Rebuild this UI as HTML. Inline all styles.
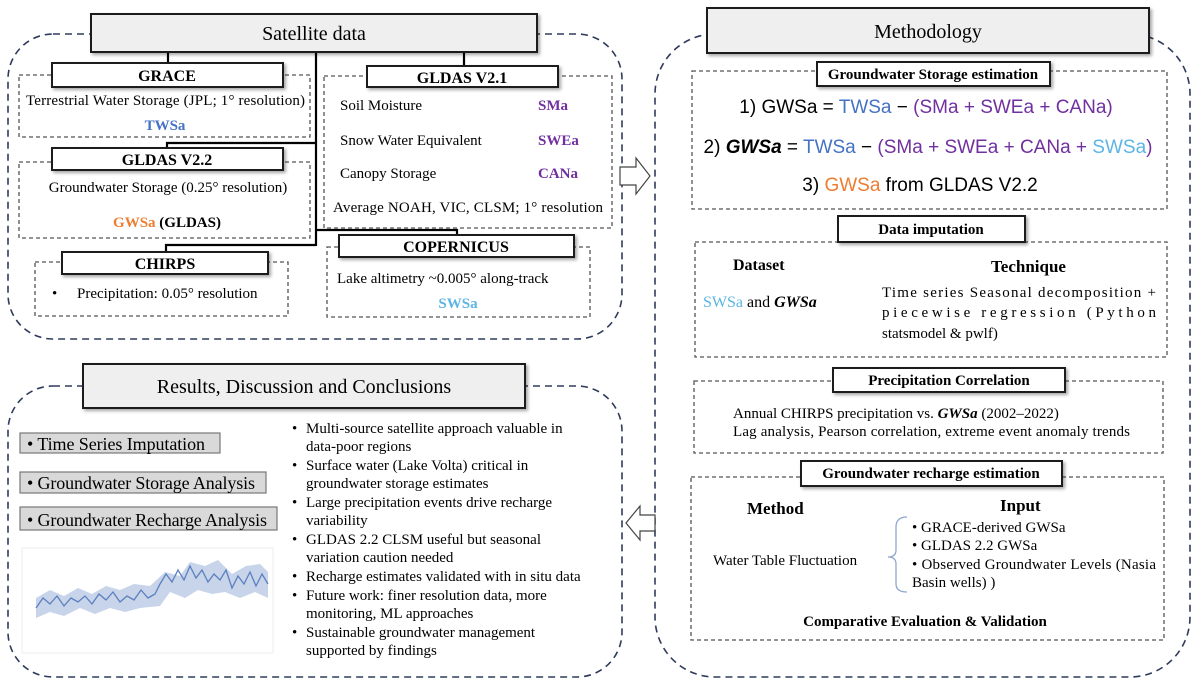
<!DOCTYPE html>
<html><head><meta charset="utf-8"><style>
html,body{margin:0;padding:0;background:#fff;}
svg{display:block;font-family:"Liberation Serif",serif;}
.eq{font-family:"Liberation Sans",sans-serif;font-size:19px}
</style></head><body>
<svg width="1199" height="684" viewBox="0 0 1199 684" xmlns="http://www.w3.org/2000/svg">
<defs>
<filter id="sh" x="-5%" y="-20%" width="115%" height="160%"><feDropShadow dx="2" dy="2" stdDeviation="1.5" flood-color="#000" flood-opacity="0.35"/></filter>
</defs>
<!-- outer panels -->
<g fill="none" stroke="#2f3b5c" stroke-width="1.6" stroke-dasharray="7,5">
<rect x="8" y="34" width="614" height="305" rx="45"/>
<rect x="8" y="386" width="614" height="291" rx="45"/>
<rect x="655" y="34" width="535" height="643" rx="60"/>
</g>
<!-- inner dashed boxes -->
<g fill="none" stroke="#555" stroke-width="1.3" stroke-dasharray="4,3">
<rect x="19" y="75" width="291" height="62"/>
<rect x="19" y="162" width="291" height="76"/>
<rect x="35" y="262" width="253" height="54"/>
<rect x="324" y="76" width="288" height="152"/>
<rect x="327" y="247" width="263" height="70"/>
<rect x="692" y="71" width="475" height="138"/>
<rect x="695" y="242" width="472" height="115"/>
<rect x="694" y="381" width="469" height="72"/>
<rect x="691" y="477" width="473" height="163"/>
</g>
<!-- connectors -->
<g stroke="#000" stroke-width="2.2" fill="none">
<line x1="316" y1="52" x2="316" y2="246"/>
<line x1="168" y1="52" x2="168" y2="63"/>
<line x1="464" y1="52" x2="464" y2="66"/>
<polyline points="316,143 167,143 167,148"/>
<polyline points="316,245 166,245 166,252"/>
<polyline points="316,230 457,230 457,235"/>
</g>
<!-- big headers -->
<g filter="url(#sh)" stroke="#1a1a1a" stroke-width="2" fill="#efefef">
<rect x="91" y="14" width="446" height="38"/>
<rect x="707" y="8" width="442" height="45"/>
<rect x="83" y="364" width="442" height="44"/>
</g>
<g font-size="20" text-anchor="middle">
<text x="314" y="40">Satellite data</text>
<text x="928" y="38">Methodology</text>
<text x="304" y="393">Results, Discussion and Conclusions</text>
</g>
<!-- small headers -->
<g filter="url(#sh)" stroke="#1a1a1a" stroke-width="2" fill="#fff">
<rect x="52" y="63" width="231" height="24"/>
<rect x="52" y="148" width="231" height="22"/>
<rect x="62" y="252" width="206" height="22"/>
<rect x="367" y="66" width="191" height="21"/>
<rect x="339" y="235" width="235" height="22"/>
<rect x="817" y="62" width="233" height="24"/>
<rect x="838" y="216" width="187" height="26"/>
<rect x="833" y="368" width="232" height="24"/>
<rect x="801" y="461" width="261" height="25"/>
</g>
<g font-size="16" font-weight="bold" text-anchor="middle">
<text x="167" y="81">GRACE</text>
<text x="167" y="165">GLDAS V2.2</text>
<text x="165" y="269">CHIRPS</text>
<text x="462" y="83">GLDAS V2.1</text>
<text x="456" y="252">COPERNICUS</text>
</g>
<g font-size="15" font-weight="bold" text-anchor="middle">
<text x="933" y="79">Groundwater Storage estimation</text>
<text x="931" y="234">Data imputation</text>
<text x="949" y="385">Precipitation Correlation</text>
<text x="931" y="478">Groundwater recharge estimation</text>
</g>
<!-- satellite content -->
<g font-size="15">
<text x="26" y="105" textLength="279">Terrestrial Water Storage (JPL; 1° resolution)</text>
<text x="165" y="130" text-anchor="middle" font-weight="bold" fill="#4472c4">TWSa</text>
<text x="168" y="192" text-anchor="middle">Groundwater Storage (0.25° resolution)</text>
<text x="167" y="227" text-anchor="middle" font-weight="bold"><tspan fill="#ed7d31">GWSa</tspan> (GLDAS)</text>
<text x="52" y="298">•</text><text x="77" y="298">Precipitation: 0.05° resolution</text>
<text x="340" y="110">Soil Moisture</text>
<text x="340" y="145">Snow Water Equivalent</text>
<text x="340" y="178">Canopy Storage</text>
<text x="333" y="212" textLength="270">Average NOAH, VIC, CLSM; 1° resolution</text>
<g font-weight="bold" fill="#7030a0"><text x="538" y="110">SMa</text><text x="538" y="145">SWEa</text><text x="538" y="178">CANa</text></g>
<text x="337" y="283">Lake altimetry ~0.005° along-track</text>
<text x="458" y="308" text-anchor="middle" font-weight="bold" fill="#5bb5e5">SWSa</text>
</g>
<!-- methodology -->
<g class="eq" text-anchor="middle">
<text x="926" y="113">1) GWSa = <tspan fill="#4472c4">TWSa</tspan> − <tspan fill="#7030a0">(SMa + SWEa + CANa)</tspan></text>
<text x="928" y="153">2) <tspan font-weight="bold" font-style="italic">GWSa</tspan> = <tspan fill="#4472c4">TWSa</tspan> − <tspan fill="#7030a0">(SMa + SWEa + CANa + </tspan><tspan fill="#5bb5e5">SWSa</tspan><tspan fill="#7030a0">)</tspan></text>
<text x="920" y="191">3) <tspan fill="#ed7d31">GWSa</tspan> from GLDAS V2.2</text>
</g>
<g font-size="15">
<text x="733" y="270" font-weight="bold" font-size="16">Dataset</text>
<text x="991" y="272" font-weight="bold" font-size="17">Technique</text>
<text x="703" y="307" font-size="16"><tspan fill="#5bb5e5">SWSa</tspan> and <tspan font-weight="bold" font-style="italic">GWSa</tspan></text>
<text x="882" y="297" textLength="274">Time series Seasonal decomposition +</text>
<text x="882" y="317" textLength="274">piecewise regression (Python</text>
<text x="882" y="338">statsmodel &amp; pwlf)</text>
<text x="733" y="418">Annual CHIRPS precipitation vs. <tspan font-weight="bold" font-style="italic">GWSa</tspan> (2002–2022)</text>
<text x="733" y="436" textLength="397">Lag analysis, Pearson correlation, extreme event anomaly trends</text>
<text x="747" y="514" font-weight="bold" font-size="17">Method</text>
<text x="1000" y="511" font-weight="bold" font-size="17">Input</text>
<text x="713" y="565">Water Table Fluctuation</text>
<text x="912" y="532">• GRACE-derived GWSa</text>
<text x="912" y="550">• GLDAS 2.2 GWSa</text>
<text x="912" y="569" textLength="244">• Observed Groundwater Levels (Nasia</text>
<text x="912" y="587">Basin wells) )</text>
<text x="925" y="626" font-weight="bold" text-anchor="middle">Comparative Evaluation &amp; Validation</text>
</g>
<path d="M907,517 Q896,517 896,527 L896,550 Q896,557 888,557 Q896,557 896,564 L896,584 Q896,592 907,592" fill="none" stroke="#8fa8d0" stroke-width="1.3"/>
<!-- results -->
<g fill="#d9d9d9" stroke="#777" stroke-width="1.2">
<rect x="20" y="433" width="200" height="20"/>
<rect x="20" y="472" width="246" height="21"/>
<rect x="20" y="507" width="257" height="23"/>
</g>
<g font-size="18">
<text x="27" y="450" textLength="178">• Time Series Imputation</text>
<text x="27" y="489" textLength="228">• Groundwater Storage Analysis</text>
<text x="27" y="526" textLength="240">• Groundwater Recharge Analysis</text>
</g>
<g font-size="15">
<text x="292" y="433">•</text><text x="306" y="433">Multi-source satellite approach valuable in</text><text x="306" y="451">data-poor regions</text>
<text x="292" y="470">•</text><text x="306" y="470">Surface water (Lake Volta) critical in</text><text x="306" y="488">groundwater storage estimates</text>
<text x="292" y="507">•</text><text x="306" y="507">Large precipitation events drive recharge</text><text x="306" y="525">variability</text>
<text x="292" y="544">•</text><text x="306" y="544">GLDAS 2.2 CLSM useful but seasonal</text><text x="306" y="562">variation caution needed</text>
<text x="292" y="581">•</text><text x="306" y="581">Recharge estimates validated with in situ data</text>
<text x="292" y="600">•</text><text x="306" y="600">Future work: finer resolution data, more</text><text x="306" y="618">monitoring, ML approaches</text>
<text x="292" y="637">•</text><text x="306" y="637">Sustainable groundwater management</text><text x="306" y="655">supported by findings</text>
</g>
<!-- chart -->
<rect x="22" y="548" width="251" height="105" fill="#fff" stroke="#eee"/>
<polygon points="36,598 50,590 64,596 78,588 92,594 106,586 120,590 134,584 150,586 165,572 180,576 190,562 205,566 218,560 232,574 246,566 260,564 268,572 268,598 255,592 240,598 225,592 212,594 198,590 185,598 170,592 160,606 140,608 125,612 110,608 95,614 80,608 64,616 50,612 36,618" fill="#c8d4ea"/>
<polyline points="36,608 43,598 50,604 57,596 64,606 71,598 78,602 85,596 92,604 99,594 106,600 113,592 120,602 127,596 134,600 141,590 148,598 155,594 160,584 166,574 172,582 178,570 184,580 190,566 196,578 202,570 208,582 214,574 220,580 226,570 232,588 238,576 244,584 250,572 256,586 262,574 268,584" fill="none" stroke="#5b7fbf" stroke-width="1.3"/>
<!-- arrows -->
<polygon points="620,167 636,167 636,158 650,176 636,194 636,185 620,185" fill="#fff" stroke="#444" stroke-width="1.2"/>
<polygon points="655,515 640,515 640,506 626,523 640,540 640,531 655,531" fill="#fff" stroke="#444" stroke-width="1.2"/>
</svg>
</body></html>
